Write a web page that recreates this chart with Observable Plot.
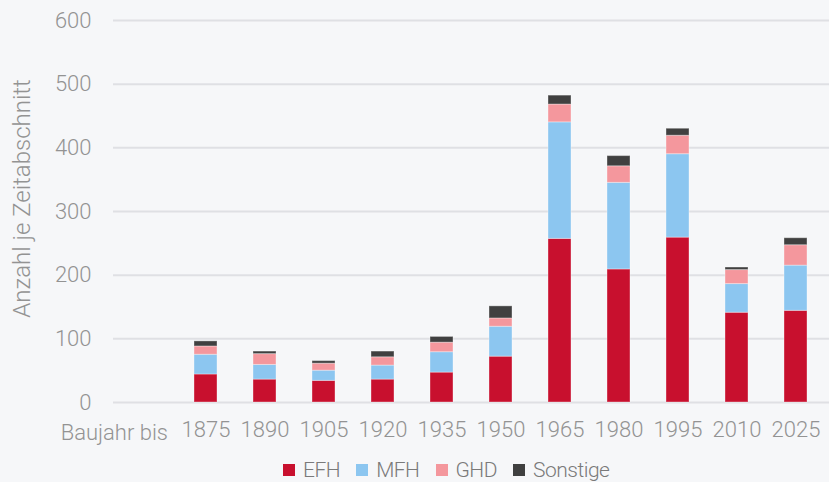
<!DOCTYPE html>
<html>
<head>
<meta charset="utf-8">
<script src="https://cdn.jsdelivr.net/npm/d3@7"></script>
<script src="https://cdn.jsdelivr.net/npm/@observablehq/plot@0.6"></script>
<style>
  html, body { margin: 0; padding: 0; background: #f6f7f9; }
  #chart { width: 829px; height: 482px; overflow: hidden; font-family: Roboto, sans-serif; }
  .legend { display: flex; align-items: center; height: 34px; padding-top: 5px; padding-left: 283px; font-size: 21px; letter-spacing: -0.5px; font-weight: 300; color: #7a7a7a; }
  .legend .item { display: flex; align-items: center; margin-right: 16px; }
  .legend .sw { width: 12px; height: 12px; margin-right: 8px; }
</style>
</head>
<body>
<div id="chart"></div>
<script>
const baseLabel = "Baujahr bis";
const years = ["1875", "1890", "1905", "1920", "1935", "1950", "1965", "1980", "1995", "2010", "2025"];
const series = ["EFH", "MFH", "GHD", "Sonstige"];
const colors = ["#c8102e", "#8cc6f0", "#f4979d", "#404040"];
const efh      = [44, 36, 34, 36, 47, 72, 257, 209, 259, 141, 144];
const mfh      = [31, 23, 16, 22, 32, 47, 183, 136, 131, 45, 71];
const ghd      = [13, 17, 11, 13, 15, 13, 28, 26, 29, 22, 32];
const sonstige = [8, 4, 4, 9, 9, 19, 14, 16, 11, 4, 11];
const yTicks = [0, 100, 200, 300, 400, 500, 600];
const yLabel = "Anzahl je Zeitabschnitt";

const valuesBySeries = {EFH: efh, MFH: mfh, GHD: ghd, Sonstige: sonstige};
const data = [];
series.forEach(s => years.forEach((y, i) => data.push({year: y, series: s, value: valuesBySeries[s][i]})));

const font = "Roboto, sans-serif";
const txt = "#939393";
const plot = Plot.plot({
  width: 829,
  height: 448,
  marginLeft: 113,
  marginRight: 0,
  marginTop: 20,
  marginBottom: 46,
  style: {background: "transparent", fontFamily: font, fontSize: "22px", fontWeight: 300, color: txt},
  x: {domain: [baseLabel, ...years], padding: 0, label: null},
  y: {domain: [0, 600], label: null},
  color: {domain: series, range: colors},
  marks: [
    Plot.gridY(yTicks, {stroke: "#dfe0e4", strokeOpacity: 1, strokeWidth: 2}),
    Plot.barY(data, {x: "year", y: "value", fill: "series", order: series, insetLeft: 18, insetRight: 18, stroke: "#ffffff", strokeOpacity: 0.35, strokeWidth: 1}),
    Plot.axisY(yTicks, {tickSize: 0, tickPadding: 22, label: null, fill: txt}),
    Plot.axisX([baseLabel, ...years], {tickSize: 0, tickPadding: 19, label: null, fill: txt, tickFormat: d => d === baseLabel ? "" : d}),
    Plot.text([baseLabel], {x: d => d, frameAnchor: "bottom", dy: 30, textAnchor: "end", lineAnchor: "middle", dx: 21, fill: txt}),
    Plot.text([yLabel], {text: d => d, frameAnchor: "left", rotate: -90, dx: -91, dy: -13, textAnchor: "middle", lineAnchor: "middle", fontSize: 24, fill: txt})
  ]
});

const chart = document.getElementById("chart");
chart.appendChild(plot);
const legend = document.createElement("div");
legend.className = "legend";
series.forEach((s, i) => {
  const item = document.createElement("div");
  item.className = "item";
  const sw = document.createElement("div");
  sw.className = "sw";
  sw.style.background = colors[i];
  const label = document.createElement("span");
  label.textContent = s;
  item.appendChild(sw);
  item.appendChild(label);
  legend.appendChild(item);
});
chart.appendChild(legend);
</script>
</body>
</html>
